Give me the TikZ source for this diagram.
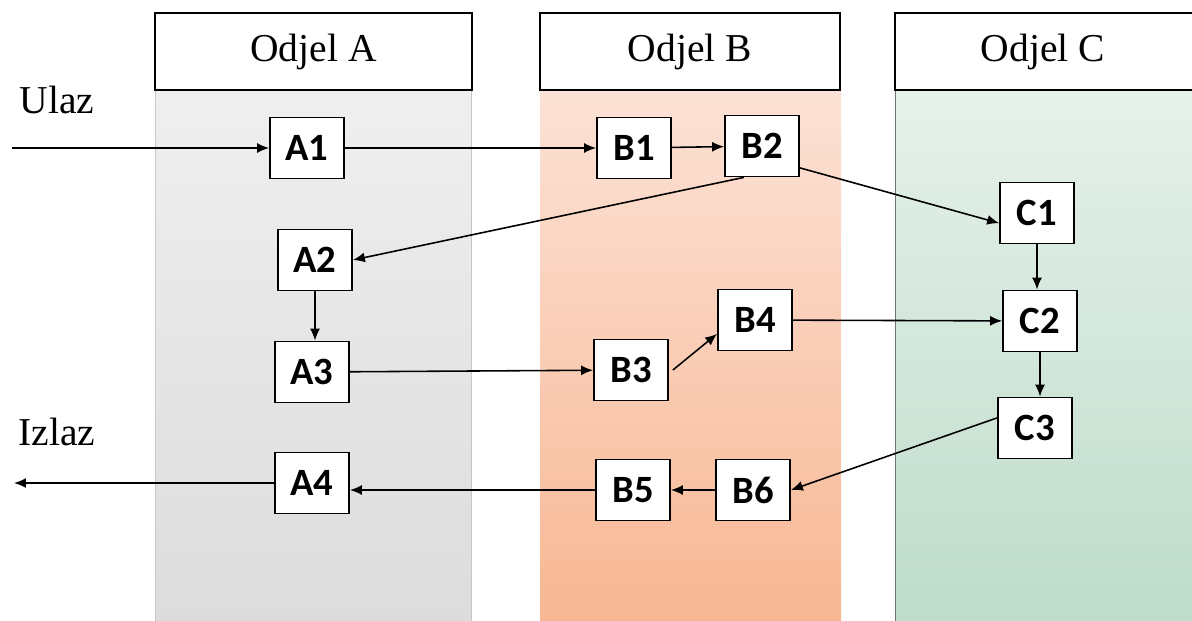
\documentclass[tikz,border=0pt]{standalone}
\usepackage{fontspec}
\setmainfont{Liberation Serif}
\newfontfamily\boxfont{Carlito}
\usetikzlibrary{positioning,calc,arrows.meta}
\definecolor{laneAtop}{HTML}{EFEFEF}
\definecolor{laneAbot}{HTML}{DCDCDC}
\definecolor{laneBtop}{HTML}{FCE2D6}
\definecolor{laneBbot}{HTML}{F7B793}
\definecolor{laneCtop}{HTML}{E6F1EA}
\definecolor{laneCbot}{HTML}{BEDCCB}
\tikzset{task/.style={draw,line width=1pt,fill=white,minimum width=1.48cm,minimum height=1.22cm,
           inner sep=0pt,align=center,font=\boxfont\bfseries\fontsize{22}{24}\selectfont},
         head/.style={draw,line width=1.4pt,fill=white,minimum height=1.54cm,inner sep=0pt,
           font=\fontsize{22.5}{26}\selectfont},
         side/.style={font=\fontsize{22.5}{26}\selectfont}
}
\tikzstyle{arrow} = [line width=0.9pt,-{Latex[length=2.4mm,width=2mm]}]

\begin{document}
\begin{tikzpicture}[x=0.02cm,y=-0.02cm]
\useasboundingbox (0,0) rectangle (1192,620);
\clip (0,0) rectangle (1192,620);

% lanes
\shade[top color=laneAtop,bottom color=laneAbot] (155,90) rectangle (471,625);
\draw[gray!45] (155,90) -- (155,625) (471,90) -- (471,625);
\shade[top color=laneBtop,bottom color=laneBbot] (540,90) rectangle (841,625);
\shade[top color=laneCtop,bottom color=laneCbot] (895,90) rectangle (1200,625);
\draw[laneCbot!55!black] (895,90) -- (895,625);

% headers
\node[head,minimum width=6.34cm] (hA) at (313.5,51.5) {Odjel A};
\node[head,minimum width=6.0cm] (hB) at (690,51.5) {Odjel B};
\node[head,minimum width=6.2cm] (hC) at (1050,51.5) {};
\node at (hC.center -| 1043,0) {\fontsize{22.5}{26}\selectfont Odjel C};

\node[side] (ulaz) at (57,100) {Ulaz};
\node[side] (izlaz) at (57,432) {Izlaz};

% tasks
\node[task] (A1) at (307,148) {A1};
\node[task] (A2) at (315,260) {A2};
\node[task] (A3) at (312,372) {A3};
\node[task] (A4) at (312,483) {A4};
\node[task] (B1) at (634,148) {B1};
\node[task] (B2) at (762,146) {B2};
\node[task] (B3) at (631,370) {B3};
\node[task] (B4) at (755,320) {B4};
\node[task] (B5) at (633,490) {B5};
\node[task] (B6) at (753,490) {B6};
\node[task] (C1) at (1037,213) {C1};
\node[task] (C2) at (1040,321) {C2};
\node[task] (C3) at (1035,428) {C3};

\coordinate (in) at (12,148);
\coordinate (out) at (14,483);

\draw[arrow] (in) -- (A1);
\draw[arrow] (A1) -- (B1);
\draw[arrow] (B1) -- (B2);
\draw[arrow] (B2.240) -- (A2.east);
\draw[arrow] (B2.-30) -- (C1.195);
\draw[arrow] (A2) -- (A2 |- A3.north);
\draw[arrow] (A3) -- (B3);
\draw[arrow] ($(B3.east)+(4,0)$) -- (B4.200);
\draw[arrow] (B4) -- (C2);
\draw[arrow] (C1) -- (C1 |- C2.north);
\draw[arrow] (C2) -- (C2 |- C3.north);
\draw[arrow] (C3.165) -- (B6.east);
\draw[arrow] (B6) -- (B5);
\draw[arrow] (B5.west) -- (B5.west -| A4.east);
\draw[arrow] (A4) -- (out);

\end{tikzpicture}
\end{document}
